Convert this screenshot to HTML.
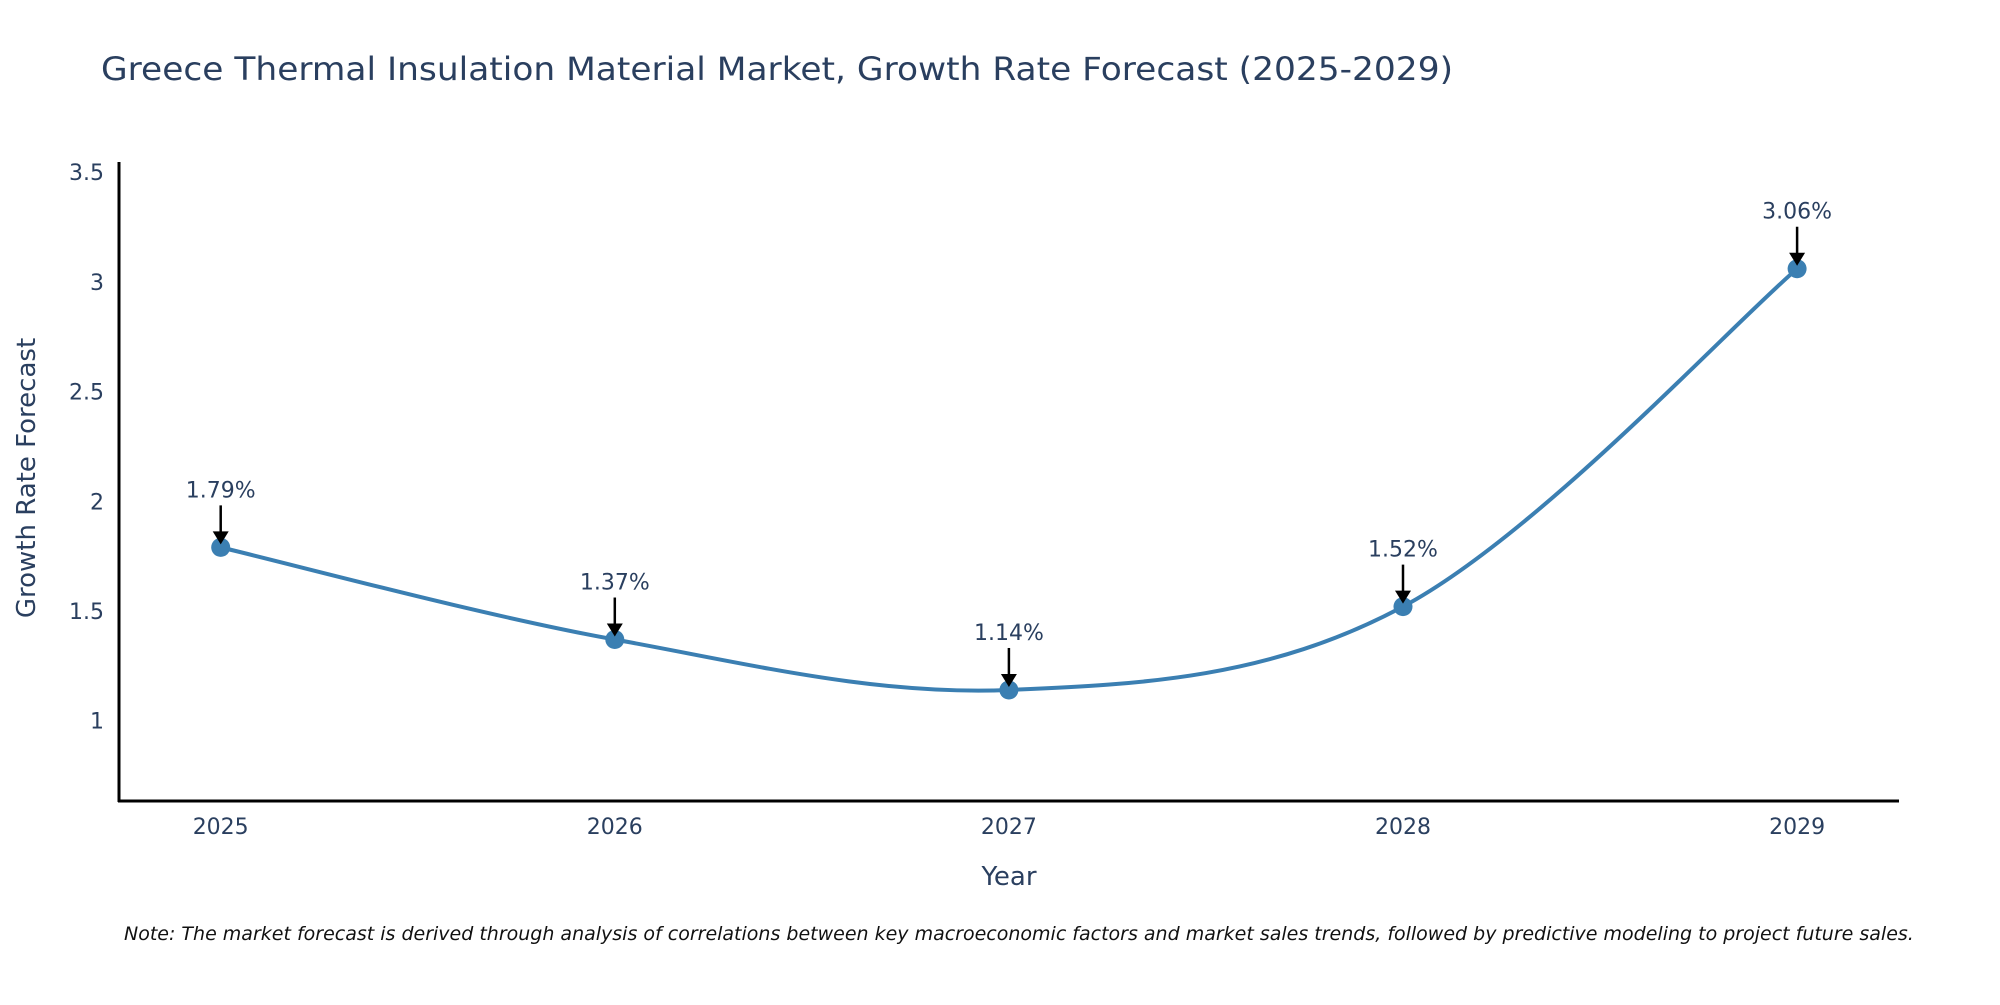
<!DOCTYPE html>
<html><head><meta charset="utf-8"><style>
body{margin:0;background:#fff;}
svg text{font-family:"DejaVu Sans","Liberation Sans",sans-serif;}
</style></head><body>
<svg id="chart" width="2000" height="1000" viewBox="0 0 2000 1000" xmlns="http://www.w3.org/2000/svg">
<rect width="2000" height="1000" fill="#fff"/>
<text x="101" y="80" font-size="32" fill="#2a3f5f" textLength="1352" lengthAdjust="spacingAndGlyphs">Greece Thermal Insulation Material Market, Growth Rate Forecast (2025-2029)</text>
<g id="yticks"></g>
<g id="xticks"></g>
<line x1="119" y1="162" x2="119" y2="802" stroke="#000" stroke-width="3"/>
<line x1="118" y1="801" x2="1899" y2="801" stroke="#000" stroke-width="3"/>
<text transform="translate(35,478) rotate(-90)" text-anchor="middle" font-size="26" fill="#2a3f5f">Growth Rate Forecast</text>
<text x="1009" y="885" text-anchor="middle" font-size="26" fill="#2a3f5f">Year</text>
<g id="series"></g>
<g id="annots"></g>
<text x="124" y="940" font-size="19" font-style="italic" fill="#111">Note: The market forecast is derived through analysis of correlations between key macroeconomic factors and market sales trends, followed by predictive modeling to project future sales.</text>
</svg>
<script>
const years = [2025, 2026, 2027, 2028, 2029];
const values = [1.79, 1.37, 1.14, 1.52, 3.06];
const labels = ["1.79%", "1.37%", "1.14%", "1.52%", "3.06%"];
const yTickVals = [1, 1.5, 2, 2.5, 3, 3.5];
const yTickLabels = ["1", "1.5", "2", "2.5", "3", "3.5"];

const NS = "http://www.w3.org/2000/svg";
function xs(yr){ return 220.7 + (yr - 2025) * 394.1; }
function ys(v){ return 720.7 - (v - 1) * 219.4; }
function mk(tag, attrs, parent){
  const e = document.createElementNS(NS, tag);
  for (const k in attrs) e.setAttribute(k, attrs[k]);
  parent.appendChild(e); return e;
}
const yt = document.getElementById('yticks');
yTickVals.forEach((v, i) => {
  const t = mk('text', {x: 104, y: ys(v) + 8, 'text-anchor': 'end', 'font-size': 22, fill: '#2a3f5f'}, yt);
  
  
  t.textContent = yTickLabels[i];
});
const xt = document.getElementById('xticks');
years.forEach(yr => {
  const t = mk('text', {x: xs(yr), y: 834, 'text-anchor': 'middle', 'font-size': 22, fill: '#2a3f5f'}, xt);
  
  
  t.textContent = String(yr);
});
const pts = years.map((yr, i) => [xs(yr), ys(values[i])]);
let d = `M${pts[0][0]},${pts[0][1]}`;
const s = 0.17;
for (let i = 0; i < pts.length - 1; i++) {
  const p0 = pts[Math.max(0, i - 1)], p1 = pts[i], p2 = pts[i + 1], p3 = pts[Math.min(pts.length - 1, i + 2)];
  const c1 = [p1[0] + (p2[0] - p0[0]) * s, p1[1] + (p2[1] - p0[1]) * s];
  const c2 = [p2[0] - (p3[0] - p1[0]) * s, p2[1] - (p3[1] - p1[1]) * s];
  d += ` C${c1[0]},${c1[1]} ${c2[0]},${c2[1]} ${p2[0]},${p2[1]}`;
}
const sg = document.getElementById('series');
const line = mk('path', {d: d, fill: 'none', stroke: '#3b7fb2', 'stroke-width': 4}, sg);


pts.forEach(p => {
  const c = mk('circle', {cx: p[0], cy: p[1], r: 9.5, fill: '#3b7fb2'}, sg);
  
  
});
const ag = document.getElementById('annots');
pts.forEach((p, i) => {
  const x = p[0], y = p[1];
  const l = mk('line', {x1: x, y1: y - 42, x2: x, y2: y - 14, stroke: '#000', 'stroke-width': 2.5}, ag);
  
  
  const h = mk('polygon', {points: `${x-8},${y-16} ${x+8},${y-16} ${x},${y-3}`, fill: '#000'}, ag);
  
  
  const t = mk('text', {x: x, y: y - 50, 'text-anchor': 'middle', 'font-size': 22, fill: '#2a3f5f'}, ag);
  
  
  t.textContent = labels[i];
});
</script>
</body></html>
